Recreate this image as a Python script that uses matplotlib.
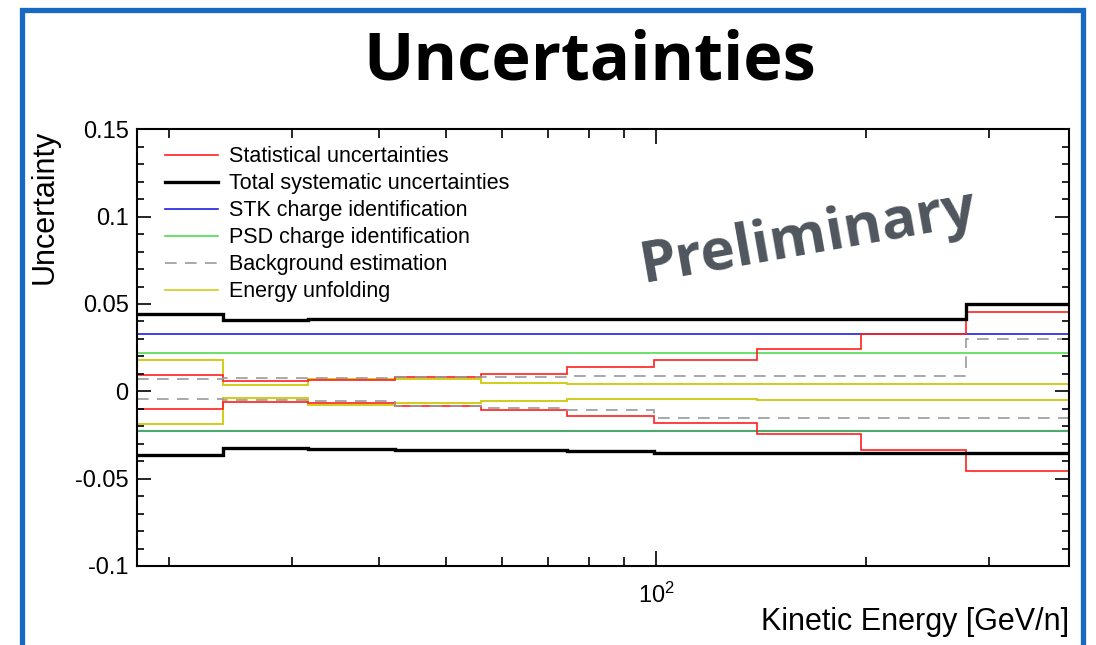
import matplotlib
matplotlib.use('Agg')
import matplotlib.pyplot as plt
from matplotlib.lines import Line2D
from matplotlib.patches import Rectangle
from matplotlib.ticker import MultipleLocator, FuncFormatter, NullFormatter, LogLocator

plt.rcParams['font.family'] = ['Liberation Sans', 'DejaVu Sans']
plt.rcParams['mathtext.fontset'] = 'custom'
plt.rcParams['mathtext.rm'] = 'Liberation Sans'
plt.rcParams['mathtext.it'] = 'Liberation Sans:italic'

# energy bins (GeV/n)
edges = [18.0, 23.9, 31.7, 42.2, 56.1, 74.5, 99.4, 139.5, 196.7, 278.6, 391.0]

# relative uncertainties per bin, upper and lower side
stat_up = [0.0093, 0.0060, 0.0067, 0.0082, 0.0099, 0.0137, 0.0180, 0.0244, 0.0328, 0.0452]
stat_dn = [-0.0099, -0.0061, -0.0067, -0.0084, -0.0105, -0.0140, -0.0181, -0.0246, -0.0336, -0.0456]
sys_up = [0.0443, 0.0408, 0.0416, 0.0413, 0.0412, 0.0412, 0.0412, 0.0412, 0.0412, 0.0500]
sys_dn = [-0.0365, -0.0323, -0.0332, -0.0338, -0.0335, -0.0342, -0.0354, -0.0354, -0.0354, -0.0354]
stk_up = [0.0330] * 10
psd_up = [0.0222] * 10
psd_dn = [-0.0226] * 10
bkg_up = [0.0069, 0.0074, 0.0076, 0.0080, 0.0084, 0.0086, 0.0086, 0.0086, 0.0086, 0.0300]
bkg_dn = [-0.0044, -0.0050, -0.0058, -0.0084, -0.0094, -0.0105, -0.0152, -0.0152, -0.0152, -0.0152]
unf_up = [0.0179, 0.0038, 0.0073, 0.0069, 0.0049, 0.0044, 0.0044, 0.0044, 0.0044, 0.0044]
unf_dn = [-0.0187, -0.0040, -0.0076, -0.0069, -0.0053, -0.0046, -0.0046, -0.0047, -0.0048, -0.0048]

labels = ['Statistical uncertainties', 'Total systematic uncertainties',
          'STK charge identification', 'PSD charge identification',
          'Background estimation', 'Energy unfolding']

c_stat = '#ff1f1f'
c_sys = 'black'
c_stk = '#1f1fe6'
c_psd = '#4fdc4f'
c_psd2 = '#4caa70'
c_bkg = '#9a9a9a'
c_unf = '#d2cc1a'

fig = plt.figure(figsize=(10.96, 6.45), dpi=100)
ax = fig.add_axes([137 / 1096, 1 - 566 / 645, (1069 - 137) / 1096, (566 - 129.3) / 645])

ax.stairs(stk_up, edges, color=c_stk, lw=1.2, baseline=None)
ax.stairs(psd_up, edges, color=c_psd, lw=1.2, baseline=None)
ax.stairs(psd_dn, edges, color=c_psd2, lw=1.5, baseline=None)
ax.stairs(unf_up, edges, color=c_unf, lw=1.4, baseline=None)
ax.stairs(unf_dn, edges, color=c_unf, lw=1.4, baseline=None)
ax.stairs(stat_up, edges, color=c_stat, lw=1.2, baseline=None)
ax.stairs(stat_dn, edges, color=c_stat, lw=1.2, baseline=None)
ax.stairs(bkg_up, edges, color=c_bkg, lw=1.2, ls=(0, (7, 5)), baseline=None)
ax.stairs(bkg_dn, edges, color=c_bkg, lw=1.2, ls=(0, (7, 5)), baseline=None)
ax.stairs(sys_up, edges, color=c_sys, lw=2.4, baseline=None)
ax.stairs(sys_dn, edges, color=c_sys, lw=2.4, baseline=None)

ax.set_xscale('log')
ax.set_xlim(edges[0], edges[-1])
ax.set_ylim(-0.1, 0.15)
ax.xaxis.set_major_locator(LogLocator(base=10))
ax.xaxis.set_minor_locator(LogLocator(base=10, subs=range(2, 10)))
ax.xaxis.set_minor_formatter(NullFormatter())
ax.yaxis.set_major_locator(MultipleLocator(0.05))
ax.yaxis.set_minor_locator(MultipleLocator(0.01))
ax.yaxis.set_major_formatter(FuncFormatter(lambda v, p: f'{round(v, 4) + 0:g}'))

ax.tick_params(which='both', direction='in', top=True, right=True, width=1.2, labelsize=17)
ax.tick_params(axis='y', which='major', length=10, pad=6)
ax.tick_params(axis='y', which='minor', length=5)
ax.tick_params(axis='x', which='major', length=11, pad=12)
ax.tick_params(axis='x', which='minor', length=6.5)
for s in ax.spines.values():
    s.set_linewidth(1.5)

ax.set_ylabel('Uncertainty', fontsize=22, loc='top')
ax.yaxis.set_label_coords(-0.0825, 1.0)
ax.set_xlabel('Kinetic Energy [GeV/n]', fontsize=22, loc='right')
ax.xaxis.set_label_coords(1.0, -0.094)

handles = [Line2D([], [], color=c_stat, lw=1.2),
           Line2D([], [], color=c_sys, lw=2.4),
           Line2D([], [], color=c_stk, lw=1.2),
           Line2D([], [], color=c_psd, lw=1.2),
           Line2D([], [], color=c_bkg, lw=1.2, ls=(0, (7, 5))),
           Line2D([], [], color=c_unf, lw=1.2)]
ax.legend(handles, labels, loc='upper left', bbox_to_anchor=(0.030, 0.961),
          frameon=False, fontsize=15.5, borderaxespad=0, borderpad=0,
          handlelength=2.46, handletextpad=0.5, labelspacing=0.28)

ax.text(0.72, 0.752, 'Preliminary', transform=ax.transAxes, rotation=10,
        ha='center', va='center', fontsize=42, fontweight='bold',
        family=['Open Sans', 'DejaVu Sans'], color='#50565e')

fig.text(0.538, 0.904, 'Uncertainties', ha='center', va='center',
         fontsize=48, fontweight='bold', family=['Open Sans', 'DejaVu Sans'])

fig.add_artist(Rectangle((22 / 1096, -0.05), (1083 - 22) / 1096, 1.05 - 10.5 / 645,
                         transform=fig.transFigure, fill=False, lw=3.8,
                         ec='#1769c4', clip_on=False))

fig.savefig('out.png', dpi=100)
